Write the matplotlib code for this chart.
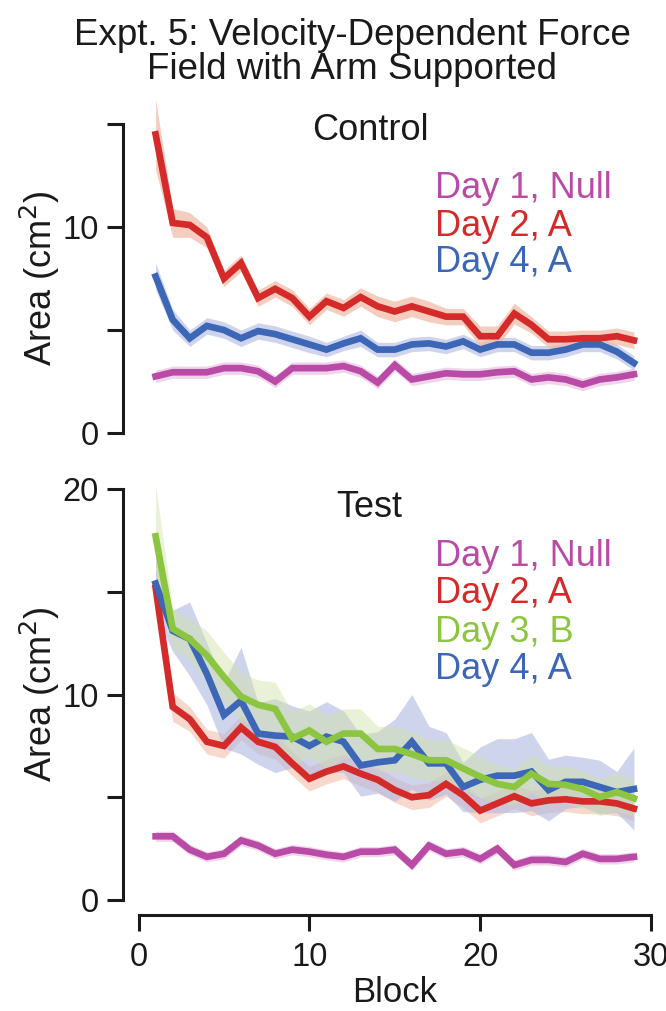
import numpy as np
import matplotlib
matplotlib.use("Agg")
import matplotlib.pyplot as plt

plt.rcParams['font.family'] = ['Liberation Sans', 'DejaVu Sans']

blocks = list(range(1, 30))

# ---- Control (top) ----
ctrl_day1_null = [2.75, 2.95, 2.95, 2.95, 3.15, 3.15, 3.0, 2.5, 3.15, 3.15,
                  3.15, 3.25, 3.0, 2.45, 3.3, 2.6, 2.75, 2.9, 2.85, 2.85,
                  2.95, 3.0, 2.6, 2.7, 2.6, 2.35, 2.6, 2.7, 2.85]
ctrl_day1_sem = [0.3] * 29
ctrl_day2_a = [14.5, 10.2, 10.1, 9.5, 7.5, 8.25, 6.55, 7.0, 6.55, 5.65,
               6.4, 6.07, 6.6, 6.15, 5.9, 6.15, 5.9, 5.65, 5.65, 4.7,
               4.7, 5.8, 5.25, 4.55, 4.55, 4.6, 4.6, 4.7, 4.5]
ctrl_day2_sem = [1.7, 0.7, 0.6, 0.5, 0.4, 0.4, 0.4, 0.4, 0.4, 0.4,
                 0.4, 0.4, 0.45, 0.5, 0.5, 0.5, 0.5, 0.4, 0.4, 0.5,
                 0.5, 0.5, 0.4, 0.4, 0.4, 0.4, 0.4, 0.4, 0.4]
ctrl_day4_a = [7.6, 5.5, 4.6, 5.2, 5.0, 4.6, 4.95, 4.8, 4.55, 4.3,
               4.05, 4.35, 4.6, 4.05, 4.05, 4.3, 4.35, 4.2, 4.45, 4.05,
               4.3, 4.3, 3.9, 3.9, 4.05, 4.3, 4.3, 3.95, 3.4]
ctrl_day4_sem = [0.65, 0.5, 0.4, 0.4, 0.4, 0.4, 0.4, 0.4, 0.4, 0.4,
                 0.35, 0.35, 0.4, 0.35, 0.35, 0.35, 0.35, 0.35, 0.35, 0.35,
                 0.35, 0.35, 0.35, 0.35, 0.35, 0.35, 0.35, 0.35, 0.35]

# ---- Test (bottom) ----
test_day1_null = [3.1, 3.1, 2.45, 2.1, 2.25, 2.9, 2.65, 2.25, 2.45, 2.35,
                  2.2, 2.1, 2.35, 2.35, 2.45, 1.7, 2.65, 2.25, 2.35, 2.0,
                  2.5, 1.7, 1.95, 1.95, 1.85, 2.25, 2.0, 2.0, 2.1]
test_day1_sem = [0.25] * 29
test_day2_a = [15.2, 9.4, 8.8, 7.7, 7.5, 8.4, 7.7, 7.45, 6.65, 5.9,
               6.25, 6.5, 6.15, 5.85, 5.35, 5.0, 5.1, 5.65, 5.1, 4.35,
               4.7, 5.05, 4.7, 4.85, 4.9, 4.8, 4.8, 4.7, 4.45]
test_day2_sem = [1.0, 0.7, 0.6, 0.6, 0.6, 0.6, 0.6, 0.6, 0.6, 0.6,
                 0.6, 0.6, 0.6, 0.6, 0.6, 0.6, 0.6, 0.6, 0.6, 0.6,
                 0.6, 0.6, 0.6, 0.6, 0.6, 0.6, 0.6, 0.6, 0.6]
test_day3_b = [17.7, 13.2, 12.7, 11.9, 10.85, 9.9, 9.5, 9.3, 7.85, 8.25,
               7.7, 8.1, 8.1, 7.35, 7.35, 7.1, 6.8, 6.8, 6.4, 6.0,
               5.65, 5.5, 6.15, 5.65, 5.6, 5.4, 5.0, 5.25, 4.95]
test_day3_sem = [2.5, 1.0, 1.0, 1.2, 1.2, 1.2, 1.2, 1.3, 1.3, 1.3,
                 1.3, 1.2, 1.2, 1.1, 1.1, 1.1, 1.0, 1.0, 1.0, 1.0,
                 0.9, 0.9, 0.9, 0.9, 0.9, 0.9, 0.9, 0.9, 0.9]
test_day4_a = [15.4, 13.1, 12.7, 11.0, 9.0, 9.7, 8.1, 8.0, 7.95, 7.5,
               7.95, 7.7, 6.55, 6.7, 6.8, 7.7, 6.65, 6.65, 5.5, 5.85,
               6.05, 6.05, 6.25, 5.35, 5.75, 5.75, 5.5, 5.25, 5.4]
test_day4_sem = [1.5, 1.0, 1.8, 1.5, 1.6, 2.6, 1.5, 1.8, 1.5, 1.7,
                 1.7, 1.5, 1.5, 1.5, 2.0, 2.3, 1.8, 1.5, 1.2, 1.6,
                 1.8, 1.8, 1.9, 1.5, 1.3, 1.2, 1.3, 1.0, 2.0]

C_MAG = '#b94aa6'
C_RED = '#d42a2a'
C_BLUE = '#3c66b6'
C_GREEN = '#8cc53f'
B_MAG = '#e6bfe3'
B_RED = '#f2b9a3'
B_BLUE = '#b0b8e2'
B_GREEN = '#cfe3a6'
TXT = '#1a1a1a'

FS_TICK = 23.5
FS_TEXT = 26
LW = 4.8
SPW = 2.2

fig = plt.figure(figsize=(6.66, 10.11), dpi=100)
ax1 = fig.add_axes([0.208, 0.5717, 0.7695, 0.3056])
ax2 = fig.add_axes([0.208, 0.1098, 0.7695, 0.4065])


def draw(ax, mean, sem, col, bcol, alpha):
    m = np.array(mean)
    s = np.array(sem)
    ax.fill_between(blocks, m - s, m + s, color=bcol, alpha=alpha,
                    linewidth=0, clip_on=False)
    ax.plot(blocks, m, color=col, lw=LW, solid_joinstyle='miter',
            clip_on=False)


# top panel
draw(ax1, ctrl_day1_null, ctrl_day1_sem, C_MAG, B_MAG, 0.65)
draw(ax1, ctrl_day4_a, ctrl_day4_sem, C_BLUE, B_BLUE, 0.6)
draw(ax1, ctrl_day2_a, ctrl_day2_sem, C_RED, B_RED, 0.7)

# bottom panel
draw(ax2, test_day1_null, test_day1_sem, C_MAG, B_MAG, 0.65)
draw(ax2, test_day2_a, test_day2_sem, C_RED, B_RED, 0.55)
draw(ax2, test_day4_a, test_day4_sem, C_BLUE, B_BLUE, 0.6)
draw(ax2, test_day3_b, test_day3_sem, C_GREEN, B_GREEN, 0.45)

for ax, ymax in ((ax1, 15), (ax2, 20)):
    ax.set_xlim(0, 30)
    ax.set_ylim(0, ymax)
    for sp in ('top', 'right'):
        ax.spines[sp].set_visible(False)
    ax.spines['left'].set_position(('outward', 11))
    ax.spines['left'].set_bounds(0, ymax)
    ax.spines['left'].set_linewidth(SPW)
    ax.spines['left'].set_color(TXT)
    ax.set_yticks(np.arange(0, ymax + 1, 5))
    ax.set_yticklabels([str(v) if v % 10 == 0 else '' for v in range(0, ymax + 1, 5)])
    ax.tick_params(axis='y', direction='out', length=11.5, width=SPW,
                   labelsize=FS_TICK, pad=6, color=TXT, labelcolor=TXT)
    ax.set_ylabel('Area (cm$^2$)', fontsize=FS_TEXT, color=TXT)
    ax.yaxis.set_label_coords(-0.15, 0.5)
    ax.patch.set_visible(False)

ax1.spines['bottom'].set_visible(False)
ax1.tick_params(axis='x', bottom=False, labelbottom=False)

ax2.spines['bottom'].set_position(('outward', 11))
ax2.spines['bottom'].set_bounds(0, 30)
ax2.spines['bottom'].set_linewidth(SPW)
ax2.spines['bottom'].set_color(TXT)
ax2.set_xticks([0, 10, 20, 30])
ax2.tick_params(axis='x', direction='out', length=11.5, width=SPW,
                labelsize=FS_TICK, pad=8, color=TXT, labelcolor=TXT)
ax2.set_xlabel('Block', fontsize=25, color=TXT, labelpad=2)

ax1.text(0.452, 0.98, 'Control', transform=ax1.transAxes, ha='center',
         va='center', fontsize=FS_TEXT, color=TXT)
ax2.text(0.451, 0.956, 'Test', transform=ax2.transAxes, ha='center',
         va='center', fontsize=FS_TEXT, color=TXT)

for txt, col, y in (('Day 1, Null', C_MAG, 0.793), ('Day 2, A', C_RED, 0.670),
                    ('Day 4, A', C_BLUE, 0.553)):
    ax1.text(0.578, y, txt, transform=ax1.transAxes, ha='left', va='center',
             fontsize=FS_TEXT, color=col)
for txt, col, y in (('Day 1, Null', C_MAG, 0.837), ('Day 2, A', C_RED, 0.745),
                    ('Day 3, B', C_GREEN, 0.652), ('Day 4, A', C_BLUE, 0.560)):
    ax2.text(0.578, y, txt, transform=ax2.transAxes, ha='left', va='center',
             fontsize=FS_TEXT, color=col)

fig.text(0.529, 1 - 18 / 1011, 'Expt. 5: Velocity-Dependent Force\nField with Arm Supported',
         ha='center', va='top', fontsize=26.5, linespacing=0.95, color=TXT)

fig.savefig('out.png', dpi=100)
